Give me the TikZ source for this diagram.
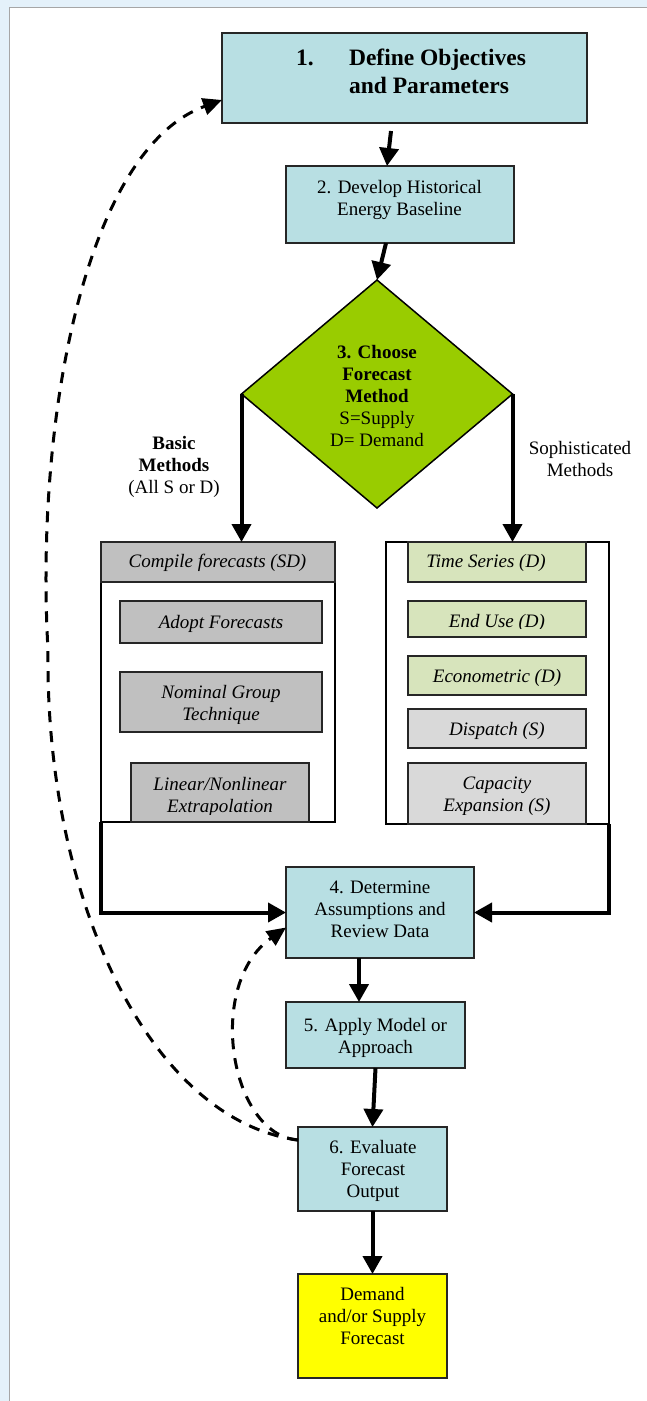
\documentclass[tikz,border=0pt]{standalone}
\usepackage{fontspec}
\setmainfont{Liberation Serif}
\usetikzlibrary{arrows.meta,shapes.geometric,calc}
\definecolor{bgblue}{RGB}{228,241,250}
\definecolor{boxblue}{RGB}{184,223,227}
\definecolor{dgreen}{RGB}{153,204,0}
\definecolor{lgreen}{RGB}{215,228,188}
\definecolor{grayA}{RGB}{192,192,192}
\definecolor{grayB}{RGB}{217,217,217}
\definecolor{fyellow}{RGB}{255,255,0}
\begin{document}
\begin{tikzpicture}[x=1pt,y=-1pt,
  every node/.style={inner sep=0pt, outer sep=0pt, font=\fontsize{19}{22}\selectfont},
  txt/.style={align=center},
  it/.style={font=\fontsize{19}{22}\selectfont\itshape},
  bluebox/.style={draw=black!85, line width=2pt, fill=boxblue},
  cont/.style={draw=black, line width=1.2pt},
  gbox/.style={draw=black!85, line width=1.6pt, fill=grayA},
  lgbox/.style={draw=black!85, line width=1.6pt, fill=grayB},
  grbox/.style={draw=black!85, line width=1.6pt, fill=lgreen},
  arr/.style={line width=4pt, -{Triangle[length=18pt,width=19pt]}},
  dsh/.style={line width=3pt, dash pattern=on 11pt off 9pt, -{Triangle[length=19pt,width=17pt]}},
]
\useasboundingbox (0,0) rectangle (647,1401);
\fill[bgblue] (0,0) rectangle (647,1401);
\fill[white] (9,7) rectangle (647,1401);
\draw[gray!70, line width=1pt] (9,1401) -- (9,7) -- (647,7);

% top boxes
\node[bluebox, minimum width=365pt, minimum height=90pt] (b1) at (404.5,78) {};
\node[align=left, font=\fontsize{23.5}{28}\selectfont\bfseries] (b1t) at (411,71)
  {\makebox[53pt][l]{1.}Define Objectives\\\hspace*{53pt}and Parameters};
\node[bluebox, minimum width=228pt, minimum height=77pt] (b2) at (400,204.5) {};
\node[txt] (b2t) at (399.5,199.5) {2. Develop Historical\\Energy Baseline};

% decision
\node[diamond, draw=black, line width=1.5pt, fill=dgreen, minimum width=271pt, minimum height=228pt] (d) at (377,394) {};
\node[txt] (dt) at (377,396) {\textbf{3. Choose}\\\textbf{Forecast}\\\textbf{Method}\\S=Supply\\D= Demand};
\node[txt] (basic) at (174,467) {\textbf{Basic}\\\textbf{Methods}\\(All S or D)};
\node[txt] (soph) at (580,458.5) {Sophisticated\\Methods};

% containers
\node[cont, minimum width=234pt, minimum height=280pt] (lc) at (218,682) {};
\node[cont, minimum width=223pt, minimum height=282pt] (rc) at (497.5,683) {};

% left items
\node[gbox, minimum width=234pt, minimum height=40pt] (hdr) at (218,562) {};
\node[it, anchor=base] (hdrt) at (217.5,567) {Compile forecasts (SD)};
\node[gbox, minimum width=202pt, minimum height=42pt] (ad) at (221,622) {};
\node[it, anchor=base] (adt) at (221,628) {Adopt Forecasts};
\node[gbox, minimum width=202pt, minimum height=60pt] (ng) at (221,702) {};
\begin{scope}
\clip (120,672) rectangle (322,723);
\node[it, align=center] (ngt) at (221,705) {Nominal Group\\Technique};
\end{scope}
\node[gbox, minimum width=178pt, minimum height=59pt] (ln) at (220,792.5) {};
\begin{scope}
\clip (131,763) rectangle (309,814);
\node[it, align=center] (lnt) at (220,796.5) {Linear/Nonlinear\\Extrapolation};
\end{scope}

% right items
\node[grbox, minimum width=178pt, minimum height=40pt] (ts) at (497,562) {};
\node[it, anchor=base] (tst) at (486,567) {Time Series (D)};
\node[grbox, minimum width=178pt, minimum height=36pt] (eu) at (497,619) {};
\begin{scope}
\clip (408,601) rectangle (586,628);
\node[it, anchor=base] (eut) at (497,627) {End Use (D)};
\end{scope}
\node[grbox, minimum width=178pt, minimum height=39pt] (ec) at (497,675.5) {};
\node[it, anchor=base] (ect) at (497,682) {Econometric (D)};
\node[lgbox, minimum width=178pt, minimum height=39pt] (dp) at (497,728.5) {};
\node[it, anchor=base] (dpt) at (497,735) {Dispatch (S)};
\node[lgbox, minimum width=178pt, minimum height=61pt] (cp) at (497,793.5) {};
\begin{scope}
\clip (408,763) rectangle (586,814);
\node[it, align=center] (cpt) at (497,796.7) {Capacity\\Expansion (S)};
\end{scope}

% lower boxes
\node[bluebox, minimum width=188pt, minimum height=91pt] (b4) at (380,912.5) {};
\node[txt] (b4t) at (380,909.5) {4. Determine\\Assumptions and\\Review Data};
\node[bluebox, minimum width=179pt, minimum height=66pt] (b5) at (375.5,1035) {};
\node[txt] (b5t) at (375.5,1037.5) {5. Apply Model or\\Approach};
\node[bluebox, minimum width=149pt, minimum height=84pt] (b6) at (372.5,1169) {};
\node[txt] (b6t) at (373,1170.5) {6. Evaluate\\Forecast\\Output};
\node[draw=black!85, line width=2pt, fill=fyellow, minimum width=149pt, minimum height=104pt] (fin) at (372.5,1326) {};
\node[txt] (fint) at (372.5,1315.5) {Demand\\and/or Supply\\Forecast};

% connectors
\draw[arr] ([xshift=-13.5pt,yshift=-8pt]b1.south) -- ([xshift=-13pt]b2.north);
\draw[arr] ([xshift=-14pt]b2.south) -- (d.north);
\draw[arr] (d.west) -- (d.west |- lc.north);
\draw[arr] (d.east) -- (d.east |- rc.north);
\draw[arr] (lc.south west) |- (b4.west);
\draw[arr] (rc.south east) |- (b4.east);
\draw[arr] ([xshift=-21pt]b4.south) -- ([xshift=-16.5pt]b5.north);
\draw[arr] (b5.south) -- (b6.north);
\draw[arr] (b6.south) -- (fin.north);

% feedback loops
\draw[dsh] ([yshift=-13pt]b6.north west) .. controls (150,1120) and (45,900) .. (48,650)
  .. controls (35,420) and (85,150) .. ([yshift=-22pt]b1.west);
\draw[dsh] ([yshift=-13pt]b6.north west) .. controls (230,1135) and (205,985) .. ([yshift=-15pt]b4.west);
\end{tikzpicture}
\end{document}
